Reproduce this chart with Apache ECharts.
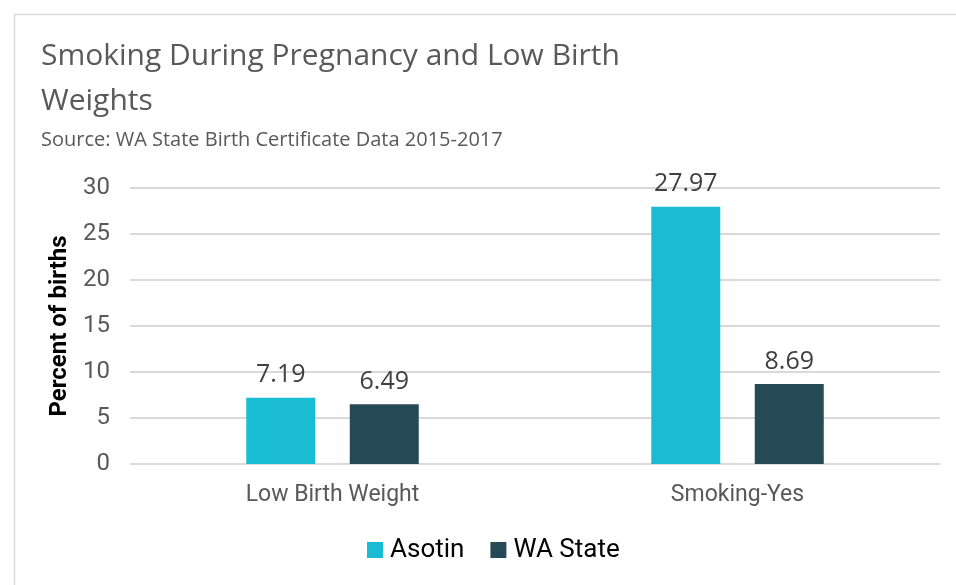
<!DOCTYPE html>
<html>
<head>
<meta charset="utf-8">
<script src="https://cdn.jsdelivr.net/npm/echarts@6/dist/echarts.min.js"></script>
<style>
  html, body { margin: 0; padding: 0; background: #fff; }
  #main { width: 956px; height: 585px; }
</style>
</head>
<body>
<div id="main"></div>
<script>
var categories = ['Low Birth Weight', 'Smoking-Yes'];
var asotin = [7.19, 27.97];
var waState = [6.49, 8.69];
var seriesNames = ['Asotin', 'WA State'];

var myChart = echarts.init(document.getElementById('main'));

var labelStyle = {
    show: true,
    position: 'top',
    distance: 10,
    color: '#404040',
    fontFamily: 'Open Sans',
    fontSize: 25,
    formatter: function (p) { return p.value.toFixed(2); }
};

var option = {
    animation: false,
    backgroundColor: '#fff',
    graphic: [{
        type: 'rect',
        shape: { x: 14.5, y: 14.5, width: 960, height: 600 },
        style: { fill: 'none', stroke: '#d9d9d9', lineWidth: 1.5 },
        silent: true
    }],
    title: {
        text: 'Smoking During Pregnancy and Low Birth\nWeights',
        subtext: 'Source: WA State Birth Certificate Data 2015-2017',
        left: 36,
        top: 29,
        itemGap: 6,
        textStyle: {
            fontFamily: 'Open Sans',
            fontWeight: 'normal',
            fontSize: 30,
            lineHeight: 45,
            color: '#595959'
        },
        subtextStyle: {
            fontFamily: 'Open Sans',
            fontSize: 20,
            color: '#595959'
        }
    },
    legend: {
        bottom: 17,
        left: 362,
        itemWidth: 16,
        itemHeight: 16,
        itemGap: 26,
        icon: 'rect',
        textStyle: { fontFamily: 'Roboto', fontSize: 26, color: '#000', padding: [0, 0, 0, 2] },
        data: seriesNames
    },
    grid: {
        left: 130,
        right: 16,
        top: 188,
        bottom: 121
    },
    xAxis: {
        type: 'category',
        data: categories,
        axisLine: { show: false },
        axisTick: { show: false },
        axisLabel: {
            margin: 20,
            fontFamily: 'Roboto',
            fontSize: 23,
            color: '#595959'
        }
    },
    yAxis: {
        type: 'value',
        min: 0,
        max: 30,
        interval: 5,
        name: 'Percent of births',
        nameLocation: 'middle',
        nameGap: 58,
        nameTextStyle: {
            fontFamily: 'Roboto',
            fontWeight: 'bold',
            fontSize: 24,
            color: '#000'
        },
        axisLabel: {
            margin: 20,
            fontFamily: 'Roboto',
            fontSize: 24,
            color: '#595959'
        },
        splitLine: { lineStyle: { color: '#d9d9d9', width: 2 } }
    },
    series: [
        {
            name: seriesNames[0],
            type: 'bar',
            data: asotin,
            barWidth: 69,
            barGap: '50%',
            itemStyle: { color: '#1abcd4' },
            label: labelStyle
        },
        {
            name: seriesNames[1],
            type: 'bar',
            data: waState,
            barWidth: 69,
            itemStyle: { color: '#264a55' },
            label: labelStyle
        }
    ]
};

myChart.setOption(option);
</script>
</body>
</html>
